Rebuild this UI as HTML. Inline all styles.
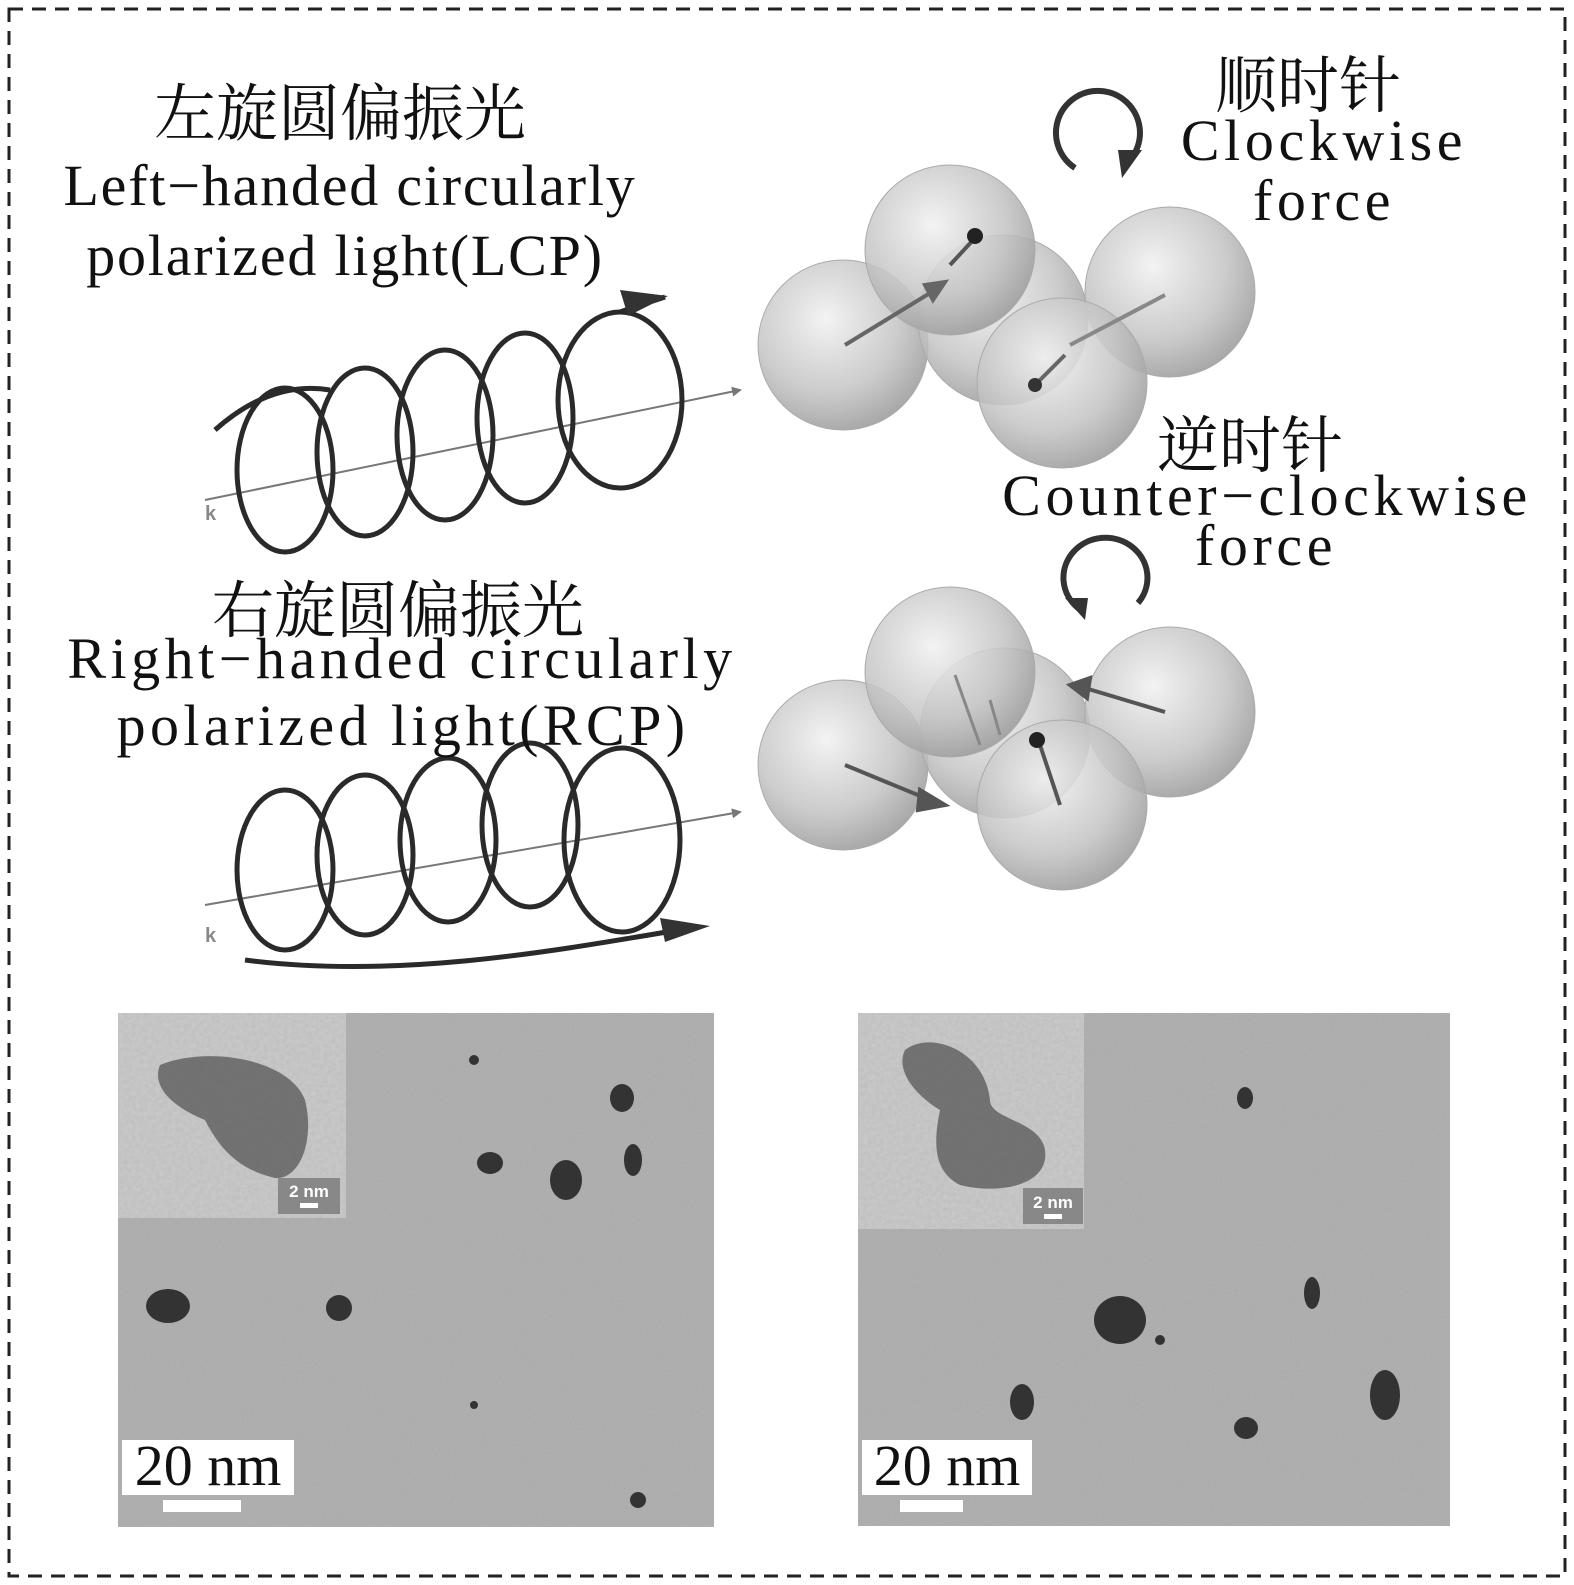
<!DOCTYPE html>
<html><head><meta charset="utf-8"><style>
html,body{margin:0;padding:0;background:#fff}
body{width:1574px;height:1585px;position:relative;overflow:hidden;font-family:"Liberation Serif","Noto Serif CJK SC",serif;color:#111}
.t{position:absolute;white-space:nowrap;text-align:center;transform:translateX(-50%)}
.cn{font-size:62px}
.en{font-size:58px;letter-spacing:4.6px}
svg{position:absolute;left:0;top:0}
</style></head><body>
<svg width="1574" height="1585" viewBox="0 0 1574 1585">
<defs>
<radialGradient id="sp" cx="0.4" cy="0.35" r="0.7">
<stop offset="0" stop-color="#f2f2f2" stop-opacity="0.9"/>
<stop offset="0.6" stop-color="#c4c4c4" stop-opacity="0.85"/>
<stop offset="1" stop-color="#9a9a9a" stop-opacity="0.9"/>
</radialGradient>
<filter id="nz" x="0" y="0" width="100%" height="100%">
<feTurbulence type="fractalNoise" baseFrequency="0.6" numOctaves="2" seed="3"/>
<feColorMatrix type="matrix" values="0 0 0 0 0.55  0 0 0 0 0.55  0 0 0 0 0.55  0 0 0 0.35 0"/>
</filter>
<filter id="nz2" x="0" y="0" width="100%" height="100%">
<feTurbulence type="fractalNoise" baseFrequency="0.25" numOctaves="2" seed="7"/>
<feColorMatrix type="matrix" values="0 0 0 0 0.7  0 0 0 0 0.7  0 0 0 0 0.7  0 0 0 0.5 0"/>
</filter>
<marker id="ah" markerWidth="10" markerHeight="10" refX="8" refY="5" orient="auto" markerUnits="userSpaceOnUse"><path d="M0,0 L10,5 L0,10z" fill="#777"/></marker>
</defs>
<rect x="9" y="9" width="1556" height="1567" fill="none" stroke="#222" stroke-width="3" stroke-dasharray="14,9"/>

<g fill="none" stroke="#2a2a2a" stroke-width="5">
<line x1="205" y1="500" x2="740" y2="390" stroke="#777" stroke-width="2" marker-end="url(#ah)"/>
<ellipse cx="285" cy="470" rx="48" ry="82"/>
<ellipse cx="365" cy="452" rx="48" ry="84"/>
<ellipse cx="445" cy="435" rx="48" ry="85"/>
<ellipse cx="525" cy="418" rx="48" ry="85"/>
<ellipse cx="620" cy="400" rx="62" ry="88"/>
<path d="M215,430 C260,390 300,385 330,390"/>
<path d="M620,312 C640,305 650,302 665,297"/>
</g>
<path d="M620,290 L668,296 L628,316z" fill="#333"/>
<text x="205" y="520" font-family="Liberation Sans,sans-serif" font-size="20" font-weight="bold" fill="#888">k</text>

<g fill="none" stroke="#2a2a2a" stroke-width="5">
<line x1="205" y1="905" x2="740" y2="812" stroke="#777" stroke-width="2" marker-end="url(#ah)"/>
<ellipse cx="285" cy="870" rx="48" ry="80"/>
<ellipse cx="365" cy="855" rx="48" ry="80"/>
<ellipse cx="448" cy="840" rx="48" ry="82"/>
<ellipse cx="530" cy="825" rx="48" ry="82"/>
<ellipse cx="622" cy="840" rx="58" ry="92"/>
<path d="M245,960 C400,980 560,950 690,928"/>
</g>
<path d="M660,918 L710,926 L665,942z" fill="#333"/>
<text x="205" y="942" font-family="Liberation Sans,sans-serif" font-size="20" font-weight="bold" fill="#888">k</text>

<g stroke="#aaa" stroke-width="1">
<circle cx="843" cy="345" r="85" fill="url(#sp)"/>
<circle cx="1003" cy="320" r="85" fill="url(#sp)"/>
<circle cx="950" cy="250" r="85" fill="url(#sp)"/>
<circle cx="1170" cy="292" r="85" fill="url(#sp)"/>
<circle cx="1062" cy="383" r="85" fill="url(#sp)"/>
</g>
<g stroke="#666" stroke-width="4">
<line x1="845" y1="345" x2="935" y2="290"/><path d="M925,285 L945,282 L933,300z" fill="#666"/>
<line x1="1035" y1="385" x2="1065" y2="355"/>
<line x1="1070" y1="345" x2="1165" y2="295" stroke="#888"/>
<line x1="975" y1="238" x2="950" y2="265" stroke="#555"/>
</g>
<circle cx="975" cy="236" r="8" fill="#222"/>
<circle cx="1035" cy="385" r="7" fill="#333"/>

<g stroke="#aaa" stroke-width="1">
<circle cx="843" cy="765" r="85" fill="url(#sp)"/>
<circle cx="1005" cy="733" r="85" fill="url(#sp)"/>
<circle cx="950" cy="672" r="85" fill="url(#sp)"/>
<circle cx="1170" cy="712" r="85" fill="url(#sp)"/>
<circle cx="1062" cy="805" r="85" fill="url(#sp)"/>
</g>
<g stroke="#555" stroke-width="4">
<line x1="845" y1="765" x2="930" y2="800"/><path d="M920,790 L945,805 L918,810z" fill="#555"/>
<line x1="1165" y1="712" x2="1085" y2="688"/><path d="M1090,678 L1070,685 L1087,698z" fill="#555"/>
<line x1="1060" y1="805" x2="1040" y2="745"/>
<line x1="955" y1="675" x2="980" y2="745" stroke="#888" stroke-width="3"/>
<line x1="990" y1="700" x2="1000" y2="735" stroke="#888" stroke-width="3"/>
</g>
<circle cx="1037" cy="740" r="8" fill="#222"/>

<path d="M1075,168 A42,42 0 1 1 1130,160" fill="none" stroke="#333" stroke-width="6"/>
<path d="M1118,150 L1142,150 L1122,178z" fill="#333"/>
<path d="M1138,603 A42,40 0 1 0 1078,608" fill="none" stroke="#333" stroke-width="6"/>
<path d="M1065,598 L1088,598 L1085,620z" fill="#333"/>

<rect x="118" y="1013" width="596" height="514" fill="#a9a9a9"/>
<rect x="118" y="1013" width="596" height="514" filter="url(#nz)"/>
<rect x="118" y="1013" width="228" height="205" fill="#bdbdbd"/>
<rect x="118" y="1013" width="228" height="205" filter="url(#nz2)"/>
<path d="M160,1065 C210,1045 290,1060 305,1100 C315,1140 300,1180 275,1178 C240,1170 220,1150 205,1120 C180,1110 150,1090 160,1065z" fill="#555" opacity="0.75"/>
<rect x="278" y="1178" width="62" height="36" fill="#888"/>
<text x="309" y="1197" font-family="Liberation Sans,sans-serif" font-weight="bold" font-size="17" fill="#fff" text-anchor="middle">2 nm</text>
<rect x="300" y="1203" width="18" height="5" fill="#fff"/>
<g fill="#333">
<ellipse cx="622" cy="1098" rx="12" ry="14"/><ellipse cx="633" cy="1160" rx="9" ry="16"/>
<ellipse cx="490" cy="1163" rx="13" ry="11"/><ellipse cx="566" cy="1180" rx="16" ry="20"/>
<ellipse cx="168" cy="1306" rx="22" ry="17"/><ellipse cx="339" cy="1308" rx="13" ry="13"/>
<circle cx="638" cy="1500" r="8"/><circle cx="474" cy="1060" r="5"/><circle cx="474" cy="1405" r="4"/>
</g>
<rect x="122" y="1440" width="172" height="55" fill="#fff"/>
<rect x="163" y="1500" width="78" height="12" fill="#fff"/>

<rect x="858" y="1013" width="592" height="513" fill="#a9a9a9"/>
<rect x="858" y="1013" width="592" height="513" filter="url(#nz)"/>
<rect x="858" y="1013" width="226" height="216" fill="#bdbdbd"/>
<rect x="858" y="1013" width="226" height="216" filter="url(#nz2)"/>
<path d="M905,1050 C930,1030 985,1050 990,1100 C990,1120 1040,1120 1045,1150 C1050,1185 1000,1195 960,1185 C930,1170 935,1135 940,1110 C915,1095 895,1070 905,1050z" fill="#555" opacity="0.75"/>
<rect x="1023" y="1188" width="60" height="36" fill="#888"/>
<text x="1053" y="1208" font-family="Liberation Sans,sans-serif" font-weight="bold" font-size="17" fill="#fff" text-anchor="middle">2 nm</text>
<rect x="1044" y="1214" width="18" height="5" fill="#fff"/>
<g fill="#333">
<ellipse cx="1245" cy="1098" rx="8" ry="11"/><ellipse cx="1120" cy="1320" rx="26" ry="24"/>
<ellipse cx="1312" cy="1293" rx="8" ry="16"/><ellipse cx="1022" cy="1402" rx="12" ry="18"/>
<ellipse cx="1246" cy="1428" rx="12" ry="11"/><ellipse cx="1385" cy="1395" rx="15" ry="25"/>
<circle cx="1160" cy="1340" r="5"/>
</g>
<rect x="862" y="1440" width="170" height="55" fill="#fff"/>
<rect x="900" y="1500" width="63" height="12" fill="#fff"/>
</svg>

<div class="t cn" style="left:340px;top:64px">左旋圆偏振光</div>
<div class="t en" style="left:350px;top:152px;letter-spacing:1.8px">Left−handed circularly</div>
<div class="t en" style="left:345px;top:222px;letter-spacing:1.8px">polarized light(LCP)</div>
<div class="t cn" style="left:1308px;top:36px">顺时针</div>
<div class="t en" style="left:1324px;top:107px">Clockwise</div>
<div class="t en" style="left:1324px;top:167px">force</div>
<div class="t cn" style="left:1250px;top:396px">逆时针</div>
<div class="t en" style="left:1267px;top:462px">Counter−clockwise</div>
<div class="t en" style="left:1266px;top:512px">force</div>
<div class="t cn" style="left:398px;top:561px">右旋圆偏振光</div>
<div class="t en" style="left:402px;top:625px;letter-spacing:4.5px">Right−handed circularly</div>
<div class="t en" style="left:403px;top:692px;letter-spacing:4.4px">polarized light(RCP)</div>
<div class="t" style="left:208px;top:1432px;font-size:58px">20 nm</div>
<div class="t" style="left:947px;top:1432px;font-size:58px">20 nm</div>
</body></html>
